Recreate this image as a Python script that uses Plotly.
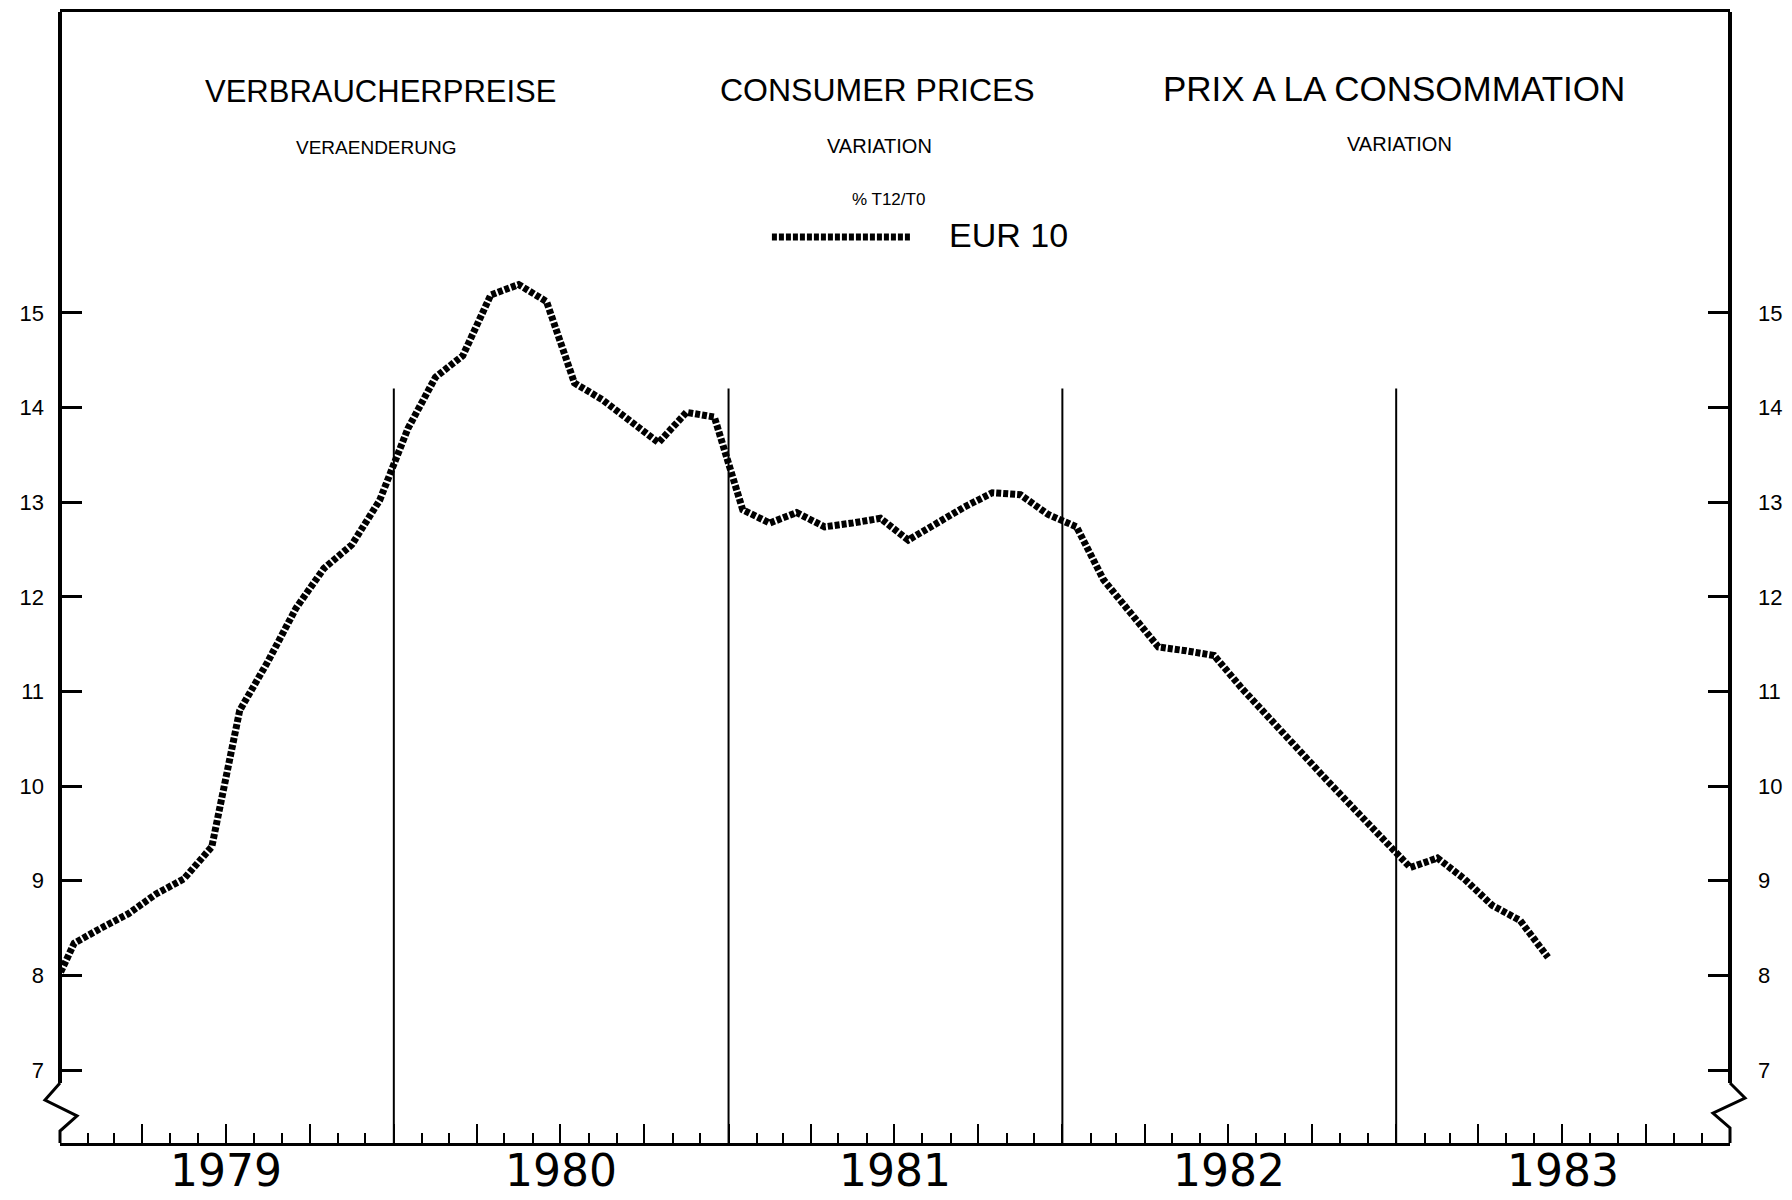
import plotly.graph_objects as go

# ---------------- data ----------------
months = (
    ["1978-12"]
    + ["1979-01", "1979-02", "1979-03", "1979-04", "1979-05", "1979-06",
       "1979-07", "1979-08", "1979-09", "1979-10", "1979-11", "1979-12"]
    + ["1980-01", "1980-02", "1980-03", "1980-04", "1980-05", "1980-06",
       "1980-07", "1980-08", "1980-09", "1980-10", "1980-11", "1980-12"]
    + ["1981-01", "1981-02", "1981-03", "1981-04", "1981-05", "1981-06",
       "1981-07", "1981-08", "1981-09", "1981-10", "1981-11", "1981-12"]
    + ["1982-01", "1982-02", "1982-03", "1982-04", "1982-05", "1982-06",
       "1982-07", "1982-08", "1982-09", "1982-10", "1982-11", "1982-12"]
    + ["1983-01", "1983-02", "1983-03", "1983-04", "1983-05", "1983-06"]
)

eur10_t12_t0 = (
    [7.70]
    + [8.34, 8.50, 8.65, 8.86, 9.02, 9.36, 10.80, 11.32, 11.88, 12.30, 12.55, 13.02]
    + [13.78, 14.32, 14.55, 15.19, 15.30, 15.12, 14.26, 14.08, 13.85, 13.63, 13.95, 13.90]
    + [12.92, 12.78, 12.89, 12.74, 12.78, 12.83, 12.60, 12.78, 12.95, 13.10, 13.08, 12.87]
    + [12.74, 12.18, 11.82, 11.47, 11.43, 11.38, 11.03, 10.70, 10.38, 10.07, 9.76, 9.45]
    + [9.14, 9.24, 9.02, 8.74, 8.58, 8.19]
)

years = ["1979", "1980", "1981", "1982", "1983"]
y_ticks = [7, 8, 9, 10, 11, 12, 13, 14, 15]
year_boundaries = ["1980-01-01", "1981-01-01", "1982-01-01", "1983-01-01"]

title_de = "VERBRAUCHERPREISE"
title_en = "CONSUMER PRICES"
title_fr = "PRIX A LA CONSOMMATION"
sub_de = "VERAENDERUNG"
sub_en = "VARIATION"
sub_fr = "VARIATION"
unit_text = "% T12/T0"
series_name = "EUR 10"

# ---------------- axes helpers ----------------
quarter_vals = []
for y in range(1979, 1985):
    for m in (1, 4, 7, 10):
        if y == 1984 and m > 1:
            continue
        quarter_vals.append(f"{y}-{m:02d}-01")

month_vals = []
for y in range(1979, 1984):
    for m in range(1, 13):
        month_vals.append(f"{y}-{m:02d}-01")
month_vals.append("1984-01-01")

Y_RANGE = [6.229, 18.18]
FONT = "Liberation Sans, Arial, sans-serif"

fig = go.Figure()
fig.add_trace(go.Scatter(
    x=months, y=eur10_t12_t0, name=series_name,
    xperiod="M1", xperiodalignment="middle",
    mode="lines",
    line=dict(color="black", width=7, dash="5px,2px"),
    showlegend=False, hoverinfo="x+y",
))
# empty trace to register the right-hand axis
fig.add_trace(go.Scatter(x=[], y=[], yaxis="y2", showlegend=False))

axis_y_common = dict(
    range=Y_RANGE, tickmode="array", tickvals=y_ticks,
    ticktext=[str(v) for v in y_ticks],
    ticks="inside", ticklen=22, tickwidth=3, tickcolor="black",
    showline=False, showgrid=False, zeroline=False,
    tickfont=dict(family=FONT, size=22, color="black"),
    automargin=False, fixedrange=True,
)

# page body has an 8px default margin -> compensate in figure size / margins
fig.update_layout(
    width=1784, height=1192,
    margin=dict(l=52, r=62, t=4, b=57),
    paper_bgcolor="white", plot_bgcolor="white",
    xaxis=dict(
        type="date", range=["1979-01-01", "1984-01-01"],
        tickmode="array", tickvals=quarter_vals,
        ticks="inside", ticklen=19, tickwidth=2, tickcolor="black",
        minor=dict(tickmode="array", tickvals=month_vals, ticks="inside",
                   ticklen=10, tickwidth=2, tickcolor="black", showgrid=False),
        showline=True, linewidth=3, linecolor="black", mirror=True,
        showgrid=False, zeroline=False, showticklabels=False,
        automargin=False, fixedrange=True,
    ),
    yaxis=dict(side="left", ticklabelstandoff=15, **axis_y_common),
    yaxis2=dict(side="right", overlaying="y", ticklabelstandoff=27, **axis_y_common),
)

shapes = []
# vertical year separator lines
for b in year_boundaries:
    shapes.append(dict(type="line", xref="x", yref="paper", x0=b, x1=b,
                       y0=0, y1=0.667, line=dict(color="black", width=2),
                       layer="below"))
# left / right vertical axes with break symbol
shapes.append(dict(type="line", xref="paper", yref="paper", x0=0, x1=0,
                   y0=0.053, y1=1, line=dict(color="black", width=4)))
shapes.append(dict(type="path", xref="paper", yref="paper",
                   path="M 0,0.053 L -0.009,0.038 L 0.0102,0.0239 L 0,0.0106 L 0,0",
                   line=dict(color="black", width=3)))
shapes.append(dict(type="line", xref="paper", yref="paper", x0=1, x1=1,
                   y0=0.053, y1=1, line=dict(color="black", width=4)))
shapes.append(dict(type="path", xref="paper", yref="paper",
                   path="M 1,0.053 L 1.009,0.0398 L 0.9898,0.0265 L 1,0.0133 L 1,0",
                   line=dict(color="black", width=3)))
# legend sample line
shapes.append(dict(type="line", xref="paper", yref="paper", x0=0.4263, x1=0.509,
                   y0=0.801, y1=0.801,
                   line=dict(color="black", width=7, dash="5px,2px")))
fig.update_layout(shapes=shapes)

def ann(text, x, y, size, family=FONT, xref="paper", pad=1):
    fig.add_annotation(text=text, xref=xref, yref="paper", x=x, y=y,
                       xanchor="center", yanchor="middle", showarrow=False,
                       borderpad=pad,
                       font=dict(family=family, size=size, color="black"))

ann(title_de, 0.1922, 0.930, 31)
ann(title_en, 0.4898, 0.931, 32)
ann(title_fr, 0.7988, 0.932, 35)
ann(sub_de, 0.1892, 0.8806, 19)
ann(sub_en, 0.491, 0.8815, 20)
ann(sub_fr, 0.8018, 0.8833, 20)
ann(unit_text, 0.4964, 0.8338, 17)
ann(series_name, 0.5677, 0.8028, 34)

# year labels centred on each year
for yr in years:
    ann(yr, f"{yr}-07-02", -0.0245, 44, family="DejaVu Sans, sans-serif",
        xref="x", pad=0)

fig.write_html("out.html")
